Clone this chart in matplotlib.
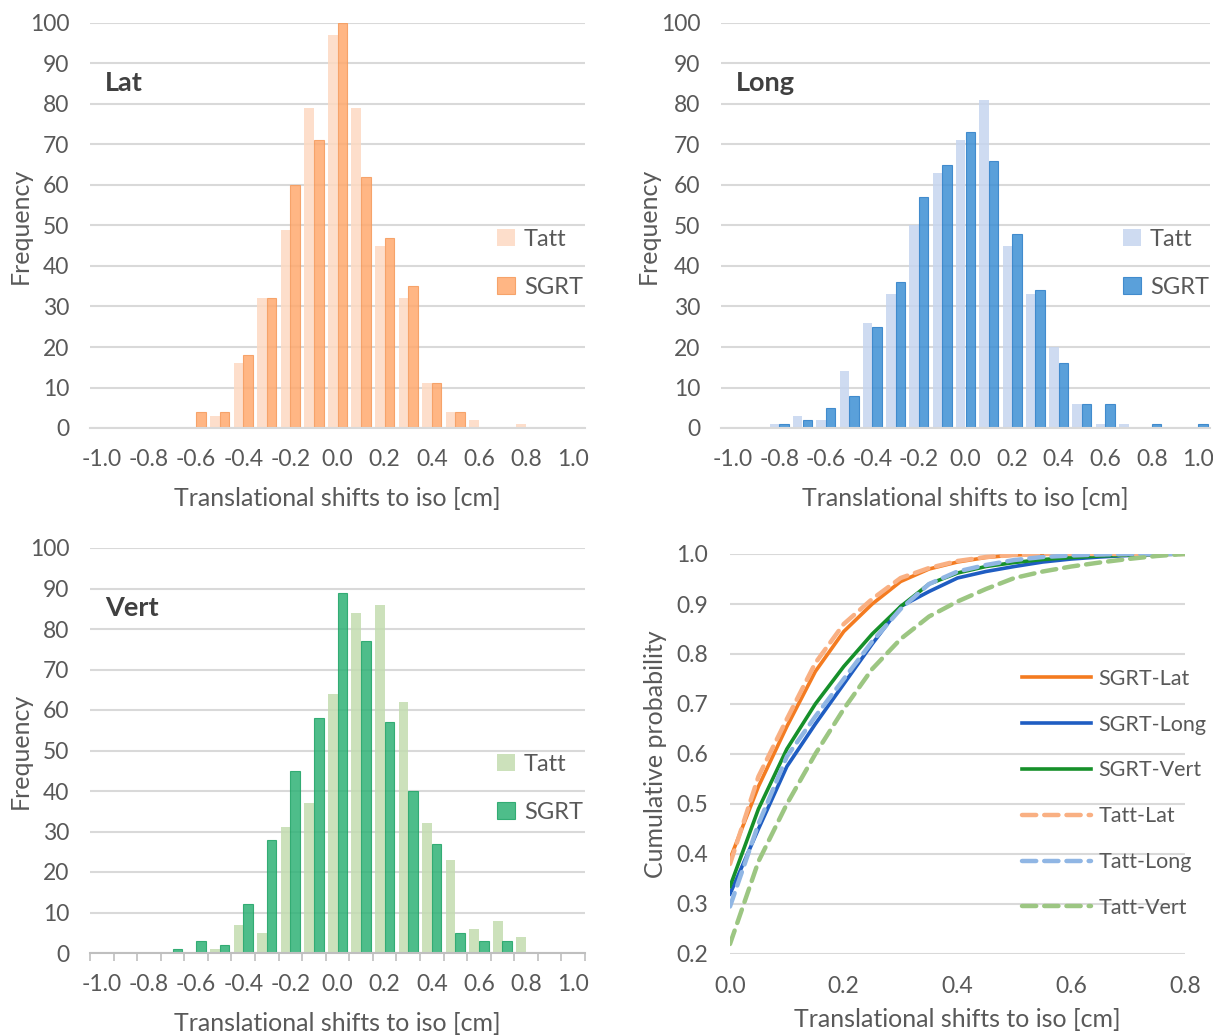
# Translational shifts: histograms (Tatt vs SGRT) per axis + cumulative probability
import numpy as np
import matplotlib.pyplot as plt

plt.rcParams['font.family'] = ['Lato', 'DejaVu Sans']

# histogram categories (cm)
shift_bins = ['-1.0', '-0.9', '-0.8', '-0.7', '-0.6', '-0.5', '-0.4', '-0.3', '-0.2', '-0.1', '0.0',
              '0.1', '0.2', '0.3', '0.4', '0.5', '0.6', '0.7', '0.8', '0.9', '1.0']

tatt_lat = [0, 0, 0, 0, 0, 3, 16, 32, 49, 79, 97, 79, 45, 32, 11, 4, 2, 0, 1, 0, 0]
sgrt_lat = [0, 0, 0, 0, 4, 4, 18, 32, 60, 71, 100, 62, 47, 35, 11, 4, 0, 0, 0, 0, 0]

tatt_long = [0, 0, 1, 3, 2, 14, 26, 33, 50, 63, 71, 81, 45, 33, 20, 6, 1, 1, 0, 0, 0]
sgrt_long = [0, 0, 1, 2, 5, 8, 25, 36, 57, 65, 73, 66, 48, 34, 16, 6, 6, 0, 1, 0, 1]

tatt_vert = [0, 0, 0, 0, 0, 1, 7, 5, 31, 37, 64, 84, 86, 62, 32, 23, 6, 8, 4, 0, 0]
sgrt_vert = [0, 0, 0, 1, 3, 2, 12, 28, 45, 58, 89, 77, 57, 40, 27, 5, 3, 3, 0, 0, 0]

# cumulative probability of |shift|
shift_cdf = [0.0, 0.05, 0.1, 0.15, 0.2, 0.25, 0.3, 0.35, 0.4, 0.45, 0.5, 0.55, 0.6, 0.65, 0.7, 0.75, 0.8]
sgrt_lat_cdf = [0.39, 0.535, 0.655, 0.765, 0.845, 0.90, 0.945, 0.97, 0.984, 0.993, 0.998, 1.0, 1.0, 1.0, 1.0, 1.0, 1.0]
sgrt_long_cdf = [0.32, 0.45, 0.575, 0.66, 0.74, 0.82, 0.895, 0.925, 0.952, 0.965, 0.975, 0.984, 0.99, 0.994, 0.997, 0.999, 1.0]
sgrt_vert_cdf = [0.335, 0.49, 0.61, 0.70, 0.775, 0.84, 0.895, 0.94, 0.962, 0.975, 0.983, 0.989, 0.993, 0.996, 0.998, 0.999, 1.0]
tatt_lat_cdf = [0.38, 0.555, 0.67, 0.782, 0.86, 0.91, 0.952, 0.972, 0.986, 0.994, 0.998, 1.0, 1.0, 1.0, 1.0, 1.0, 1.0]
tatt_long_cdf = [0.295, 0.46, 0.595, 0.675, 0.75, 0.825, 0.89, 0.94, 0.965, 0.978, 0.988, 0.994, 0.997, 0.999, 1.0, 1.0, 1.0]
tatt_vert_cdf = [0.22, 0.385, 0.50, 0.60, 0.69, 0.77, 0.83, 0.875, 0.905, 0.93, 0.952, 0.965, 0.975, 0.983, 0.99, 0.996, 1.0]

TXT = '#595959'
GRID = '#d9d9d9'
W, H = 1213, 1035

fig = plt.figure(figsize=(W / 100, H / 100), dpi=100)


def px_axes(x0, y0, x1, y1):
    # pixel box (left, top, right, bottom) -> axes
    return fig.add_axes([x0 / W, 1 - y1 / H, (x1 - x0) / W, (y1 - y0) / H])


def hist_panel(ax, tatt, sgrt, c_tatt, c_sgrt, e_sgrt, name, ylab_x, ticks_out=False):
    x = np.arange(len(shift_bins))
    w = 0.41
    ax.bar(x - w / 2, tatt, w, color=c_tatt, alpha=0.85, label='Tatt', zorder=2)
    ax.bar(x + w / 2, sgrt, w, color=c_sgrt, edgecolor=e_sgrt, linewidth=0.8,
           alpha=0.85, label='SGRT', zorder=2)
    ax.set_xlim(-0.5, len(shift_bins) - 0.5)
    ax.set_ylim(0, 100)
    ax.set_yticks(range(0, 101, 10))
    ax.set_xticks(x[::2])
    ax.set_xticklabels(shift_bins[::2])
    ax.grid(axis='y', color=GRID, linewidth=1.5, zorder=1)
    ax.set_axisbelow(True)
    for s in ['top', 'right', 'left']:
        ax.spines[s].set_visible(False)
    ax.spines['bottom'].set_color('#bfbfbf' if ticks_out else GRID)
    ax.spines['bottom'].set_linewidth(1.5)
    ax.tick_params(axis='both', length=0, labelsize=16.5, colors=TXT)
    ax.tick_params(axis='y', pad=15)
    ax.tick_params(axis='x', pad=15)
    if ticks_out:
        ax.set_xticks(np.arange(-0.5, len(shift_bins), 1.0), minor=True)
        ax.tick_params(axis='x', which='minor', length=6, width=1.2, color='#bfbfbf')
    ax.set_xlabel('Translational shifts to iso [cm]', fontsize=18, color=TXT, labelpad=12.5)
    ax.set_ylabel('Frequency', fontsize=18, color=TXT)
    ax.yaxis.set_label_coords(ylab_x, 0.5)
    ax.text(0.03, 0.852, name, transform=ax.transAxes, fontsize=19.5, fontweight='bold',
            color='#404040', va='center', ha='left')
    ax.legend(loc='upper left', bbox_to_anchor=(0.822, 0.492), frameon=False, fontsize=17,
              handlelength=0.75, handleheight=0.75, handletextpad=0.4, labelspacing=1.15,
              borderpad=0, borderaxespad=0, labelcolor=TXT)


ax1 = px_axes(90, 23, 585, 428)
hist_panel(ax1, tatt_lat, sgrt_lat, '#fdd9c2', '#ffa96e', '#f59a5b', 'Lat', -0.117)

ax2 = px_axes(721, 23, 1210, 428)
hist_panel(ax2, tatt_long, sgrt_long, '#c6d5ef', '#3d8fd4', '#2f80c8', 'Long', -0.125)

ax3 = px_axes(90, 548, 585, 953)
hist_panel(ax3, tatt_vert, sgrt_vert, '#c3dcb0', '#2fb276', '#1fa466', 'Vert', -0.117, ticks_out=True)

# cumulative probability panel
ax4 = px_axes(730, 554, 1185, 954)
lw = 2.6
ax4.plot(shift_cdf, sgrt_lat_cdf, color='#f47b20', lw=lw, label='SGRT-Lat')
ax4.plot(shift_cdf, sgrt_long_cdf, color='#1f5dc2', lw=lw, label='SGRT-Long')
ax4.plot(shift_cdf, sgrt_vert_cdf, color='#16902a', lw=lw, label='SGRT-Vert')
ax4.plot(shift_cdf, tatt_lat_cdf, color='#f9b083', lw=lw + 0.6, ls=(0, (3.2, 1.8)),
         dash_capstyle='round', label='Tatt-Lat')
ax4.plot(shift_cdf, tatt_long_cdf, color='#90b6e4', lw=lw + 0.6, ls=(0, (3.2, 1.8)),
         dash_capstyle='round', label='Tatt-Long')
ax4.plot(shift_cdf, tatt_vert_cdf, color='#9cc682', lw=lw + 0.6, ls=(0, (3.2, 1.8)),
         dash_capstyle='round', label='Tatt-Vert')
ax4.set_xlim(0, 0.8)
ax4.set_ylim(0.2, 1.0)
ax4.set_xticks(np.arange(0, 0.81, 0.2))
ax4.set_xticklabels(['0.0', '0.2', '0.4', '0.6', '0.8'])
ax4.set_yticks(np.arange(0.2, 1.01, 0.1))
ax4.set_yticklabels([f'{v:.1f}' for v in np.arange(0.2, 1.01, 0.1)])
ax4.grid(axis='y', color=GRID, linewidth=1.5, zorder=0)
ax4.set_axisbelow(True)
for s in ax4.spines.values():
    s.set_visible(False)
ax4.tick_params(axis='both', length=0, labelsize=16.5, colors=TXT)
ax4.tick_params(axis='y', pad=16)
ax4.tick_params(axis='x', pad=16)
ax4.set_xlabel('Translational shifts to iso [cm]', fontsize=18, color=TXT, labelpad=8)
ax4.set_ylabel('Cumulative probability', fontsize=18, color=TXT)
ax4.yaxis.set_label_coords(-0.138, 0.5)
ax4.legend(loc='upper left', bbox_to_anchor=(0.642, 0.713), frameon=False, fontsize=15.5,
           handlelength=3.2, handletextpad=0.35, labelspacing=1.2, borderpad=0,
           borderaxespad=0, labelcolor=TXT)

fig.savefig('out.png', dpi=100)
